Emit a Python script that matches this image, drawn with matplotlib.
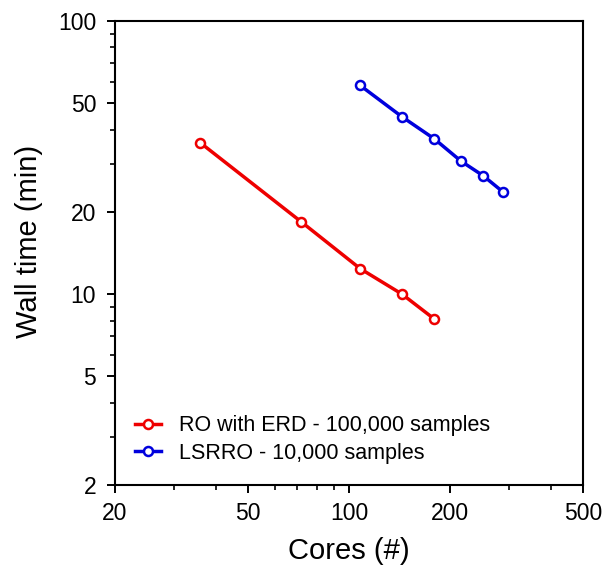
import matplotlib
matplotlib.use("Agg")
import matplotlib.pyplot as plt
from matplotlib.ticker import FixedLocator, NullFormatter, FixedFormatter

plt.rcParams['font.family'] = ['Liberation Sans', 'DejaVu Sans']

red_x = [36, 72, 108, 144, 180]
red_y = [35.8, 18.4, 12.4, 10.0, 8.1]
blue_x = [108, 144, 180, 216, 252, 288]
blue_y = [58.1, 44.6, 37.0, 30.7, 27.1, 23.7]
red_label = "RO with ERD - 100,000 samples"
blue_label = "LSRRO - 10,000 samples"
x_ticks = [20, 50, 100, 200, 500]
y_ticks = [2, 5, 10, 20, 50, 100]

fig = plt.figure(figsize=(6.05, 5.68), dpi=100)
ax = fig.add_axes([0.190, 0.1461, 0.7736, 0.8169])

for xs, ys, c, lab in [(red_x, red_y, '#ee0000', red_label), (blue_x, blue_y, '#0000dd', blue_label)]:
    ax.plot(xs, ys, color=c, lw=2.5, marker='o', ms=6.5, mfc='white', mec=c, mew=1.8, label=lab)

ax.set_xscale('log')
ax.set_yscale('log')
ax.set_xlim(20, 500)
ax.set_ylim(2, 100)

ax.xaxis.set_major_locator(FixedLocator(x_ticks))
ax.xaxis.set_major_formatter(FixedFormatter([str(t) for t in x_ticks]))
ax.xaxis.set_minor_locator(FixedLocator([30, 40, 60, 70, 80, 90, 300, 400]))
ax.xaxis.set_minor_formatter(NullFormatter())
ax.yaxis.set_major_locator(FixedLocator(y_ticks))
ax.yaxis.set_major_formatter(FixedFormatter([str(t) for t in y_ticks]))
ax.yaxis.set_minor_locator(FixedLocator([3, 4, 6, 7, 8, 9, 30, 40, 60, 70, 80, 90]))
ax.yaxis.set_minor_formatter(NullFormatter())

ax.tick_params(which='major', direction='out', length=5.5, width=1.4, labelsize=16.5, top=False, right=False)
ax.tick_params(axis='x', which='major', pad=7)
ax.tick_params(axis='y', which='major', pad=8)
ax.tick_params(which='minor', direction='out', length=3.3, width=1.2, top=False, right=False)
for s in ax.spines.values():
    s.set_linewidth(1.5)

ax.set_xlabel("Cores (#)", fontsize=21)
ax.set_ylabel("Wall time (min)", fontsize=21)
ax.xaxis.set_label_coords(0.5, -0.112)
ax.yaxis.set_label_coords(-0.154, 0.525)

ax.legend(loc='lower left', frameon=False, fontsize=15.5, handlelength=1.2, handletextpad=0.85,
          labelspacing=0.3, borderpad=0, borderaxespad=0, bbox_to_anchor=(0.043, 0.046))

fig.savefig("out.png", dpi=100)
